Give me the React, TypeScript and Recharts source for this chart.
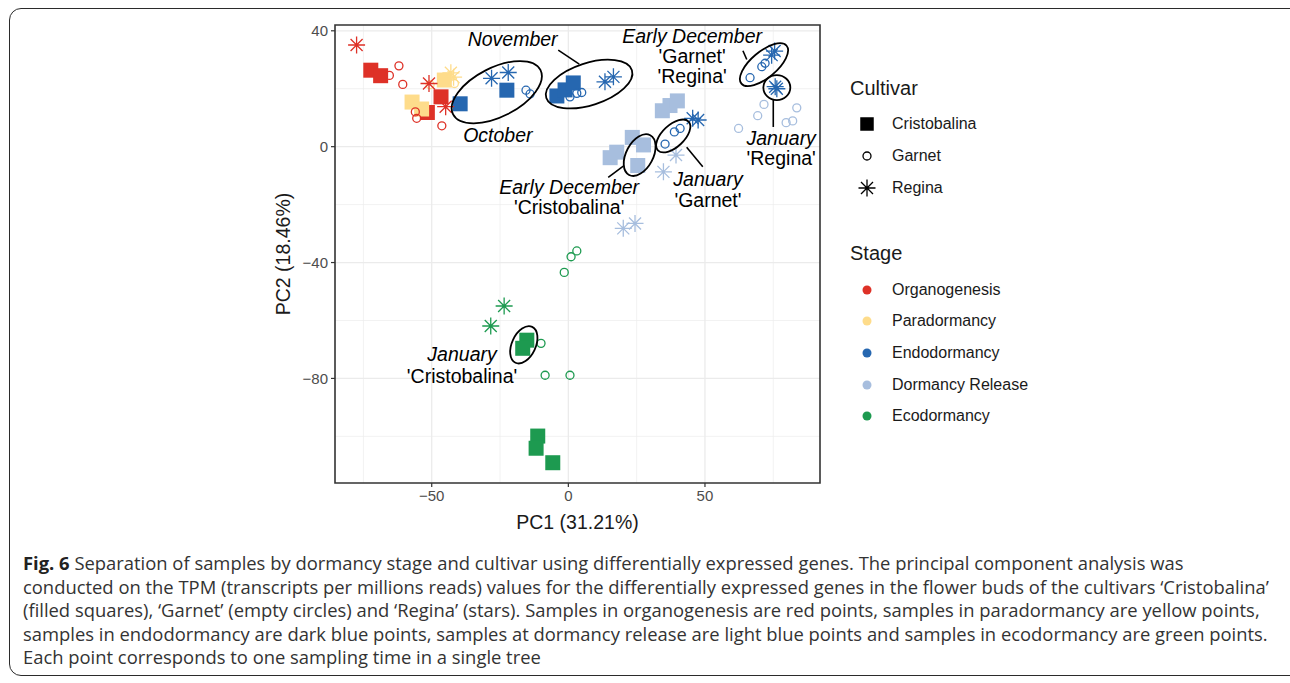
import React from 'react';
import {
  ScatterChart,
  Scatter,
  XAxis,
  YAxis,
  CartesianGrid,
  ReferenceArea,
  ReferenceDot,
  ReferenceLine,
  Label,
} from 'recharts';

// ---------------------------------------------------------------------------
// data: PC1 / PC2 scores by cultivar and stage
// ---------------------------------------------------------------------------

type Pt = { x: number; y: number };

const cristobalinaOrganogenesis: Pt[] = [
  { x: -72.3, y: 26.4 }, { x: -68.7, y: 24.5 }, { x: -46.6, y: 17.2 }, { x: -51.6, y: 11.8 },
];
const cristobalinaParadormancy: Pt[] = [
  { x: -57.2, y: 15.4 }, { x: -53.7, y: 13.0 }, { x: -45.4, y: 23.0 },
];
const cristobalinaEndodormancy: Pt[] = [
  { x: -39.6, y: 14.8 }, { x: -22.5, y: 19.5 }, { x: -4.2, y: 17.5 }, { x: -1.2, y: 19.6 }, { x: 1.8, y: 22.0 },
];
const cristobalinaRelease: Pt[] = [
  { x: 34.4, y: 12.4 }, { x: 37.2, y: 14.2 }, { x: 39.9, y: 15.8 },
  { x: 15.3, y: -3.8 }, { x: 17.7, y: -1.9 }, { x: 23.4, y: 3.2 }, { x: 27.5, y: 0.6 }, { x: 25.4, y: -6.5 },
];
const cristobalinaEcodormancy: Pt[] = [
  { x: -15.2, y: -66.8 }, { x: -16.7, y: -69.6 }, { x: -11.2, y: -99.9 }, { x: -11.8, y: -104.1 }, { x: -5.7, y: -109.1 },
];

const garnetOrganogenesis: Pt[] = [
  { x: -62.0, y: 27.9 }, { x: -65.5, y: 24.6 }, { x: -60.6, y: 21.5 }, { x: -56.0, y: 12.0 }, { x: -55.5, y: 9.8 }, { x: -46.3, y: 7.2 },
];
const garnetParadormancy: Pt[] = [
  { x: -50.6, y: 21.4 }, { x: -41.7, y: 21.8 },
];
const garnetEndodormancy: Pt[] = [
  { x: -15.5, y: 19.5 }, { x: -14.0, y: 18.2 }, { x: 0.6, y: 17.2 }, { x: 3.1, y: 18.4 }, { x: 4.9, y: 18.7 },
  { x: 35.4, y: 0.9 }, { x: 38.8, y: 5.1 }, { x: 40.9, y: 6.3 },
  { x: 66.5, y: 23.8 }, { x: 70.8, y: 27.6 }, { x: 72.0, y: 28.8 },
];
const garnetRelease: Pt[] = [
  { x: 71.6, y: 14.6 }, { x: 69.3, y: 10.7 }, { x: 62.3, y: 6.3 }, { x: 83.6, y: 13.4 }, { x: 82.1, y: 8.9 }, { x: 79.7, y: 8.3 },
];
const garnetEcodormancy: Pt[] = [
  { x: 3.1, y: -36.0 }, { x: 1.0, y: -38.0 }, { x: -1.5, y: -43.4 }, { x: -10.0, y: -67.9 }, { x: -8.5, y: -78.9 }, { x: 0.6, y: -78.9 },
];

const reginaOrganogenesis: Pt[] = [
  { x: -77.5, y: 35.1 }, { x: -51.0, y: 21.8 }, { x: -44.9, y: 13.8 },
];
const reginaParadormancy: Pt[] = [
  { x: -43.0, y: 25.5 }, { x: -42.0, y: 24.0 },
];
const reginaEndodormancy: Pt[] = [
  { x: -28.1, y: 23.6 }, { x: -22.0, y: 25.6 }, { x: 13.4, y: 22.4 }, { x: 16.5, y: 24.1 },
  { x: 45.5, y: 9.8 }, { x: 47.5, y: 9.2 }, { x: 74.4, y: 31.6 }, { x: 75.5, y: 33.0 }, { x: 75.7, y: 20.7 }, { x: 76.3, y: 20.0 },
];
const reginaRelease: Pt[] = [
  { x: 39.4, y: -2.9 }, { x: 34.8, y: -8.7 }, { x: 20.1, y: -28.2 }, { x: 24.4, y: -26.5 },
];
const reginaEcodormancy: Pt[] = [
  { x: -23.5, y: -55.0 }, { x: -28.4, y: -61.9 },
];

const cultivars = ['Cristobalina', 'Garnet', 'Regina'];
const stages = ['Organogenesis', 'Paradormancy', 'Endodormancy', 'Dormancy Release', 'Ecodormancy'];

const xTicks = [-50, 0, 50];
const yTicks = [-80, -40, 0, 40];
const xMinor = [-75, -25, 25, 75];
const yMinor = [-100, -60, -20, 20];
const xDomain: [number, number] = [-85.4, 92.1];
const yDomain: [number, number] = [-116.1, 42.0];

// annotations (centre in data units)
const ellipses = [
  { x: -26.2, y: 18.8, rx: 49, ry: 24.5, rot: -27 }, // October
  { x: 7.6, y: 21.6, rx: 45, ry: 21, rot: -18 }, // November
  { x: 71.6, y: 28.3, rx: 29.5, ry: 13, rot: -40 }, // Early December Garnet/Regina
  { x: 76.3, y: 20.4, rx: 13.5, ry: 12.5, rot: 0 }, // January Regina
  { x: 38.4, y: 3.7, rx: 21, ry: 11, rot: -43 }, // January Garnet
  { x: 26.1, y: -2.9, rx: 22.5, ry: 13.5, rot: -62 }, // Early December Cristobalina
  { x: -16.3, y: -68.4, rx: 19.8, ry: 11.9, rot: -65 }, // January Cristobalina
];

const connectors = [
  [{ x: -3.7, y: 33.3 }, { x: 4.0, y: 28.5 }],
  [{ x: 63.9, y: 33.1 }, { x: 65.3, y: 30.1 }],
  [{ x: 75.0, y: 16.1 }, { x: 75.0, y: 6.8 }],
  [{ x: 43.3, y: -0.2 }, { x: 49.2, y: -6.9 }],
  [{ x: 20.1, y: -6.7 }, { x: 14.6, y: -10.6 }],
];

const labels = [
  { x: -20.4, y: 37.1, lines: ['November'], lh: 20 },
  { x: -25.8, y: 4.0, lines: ['October'], lh: 20 },
  { x: 45.3, y: 31.4, lines: ['Early December', "'Garnet'", "'Regina'"], lh: 20 },
  { x: 77.9, y: -0.5, lines: ['January', "'Regina'"], lh: 20 },
  { x: 51.1, y: -14.8, lines: ['January', "'Garnet'"], lh: 20.5 },
  { x: 0.3, y: -17.4, lines: ['Early December', "'Cristobalina'"], lh: 20 },
  { x: -38.9, y: -75.4, lines: ['January', "'Cristobalina'"], lh: 22 },
];

// ---------------------------------------------------------------------------
// styles
// ---------------------------------------------------------------------------

const FONT = '"Liberation Sans", Arial, sans-serif';
const stageColor: Record<string, string> = {
  Organogenesis: '#DE3127',
  Paradormancy: '#FEDC8B',
  Endodormancy: '#2667B0',
  'Dormancy Release': '#A7BEDE',
  Ecodormancy: '#1D9A50',
};

const series = [
  { cultivar: 'Cristobalina', stage: 'Organogenesis', data: cristobalinaOrganogenesis },
  { cultivar: 'Cristobalina', stage: 'Paradormancy', data: cristobalinaParadormancy },
  { cultivar: 'Cristobalina', stage: 'Endodormancy', data: cristobalinaEndodormancy },
  { cultivar: 'Cristobalina', stage: 'Dormancy Release', data: cristobalinaRelease },
  { cultivar: 'Cristobalina', stage: 'Ecodormancy', data: cristobalinaEcodormancy },
  { cultivar: 'Garnet', stage: 'Organogenesis', data: garnetOrganogenesis },
  { cultivar: 'Garnet', stage: 'Paradormancy', data: garnetParadormancy },
  { cultivar: 'Garnet', stage: 'Endodormancy', data: garnetEndodormancy },
  { cultivar: 'Garnet', stage: 'Dormancy Release', data: garnetRelease },
  { cultivar: 'Garnet', stage: 'Ecodormancy', data: garnetEcodormancy },
  { cultivar: 'Regina', stage: 'Organogenesis', data: reginaOrganogenesis },
  { cultivar: 'Regina', stage: 'Paradormancy', data: reginaParadormancy },
  { cultivar: 'Regina', stage: 'Endodormancy', data: reginaEndodormancy },
  { cultivar: 'Regina', stage: 'Dormancy Release', data: reginaRelease },
  { cultivar: 'Regina', stage: 'Ecodormancy', data: reginaEcodormancy },
];

function starPath(cx: number, cy: number, r: number) {
  const d = r * 0.7071;
  return `M${cx - r},${cy}H${cx + r}M${cx},${cy - r}V${cy + r}M${cx - d},${cy - d}L${cx + d},${cy + d}M${cx - d},${cy + d}L${cx + d},${cy - d}`;
}

function marker(cultivar: string, color: string, cx: number, cy: number, big = true) {
  if (cultivar === 'Cristobalina') {
    const s = big ? 15 : 13.5;
    return <rect x={cx - s / 2} y={cy - s / 2} width={s} height={s} fill={color} />;
  }
  if (cultivar === 'Garnet') {
    return <circle cx={cx} cy={cy} r={4} fill="none" stroke={color} strokeWidth={1.3} />;
  }
  return <path d={starPath(cx, cy, 8.5)} stroke={color} strokeWidth={1.3} fill="none" />;
}

// grid line positions from the plot offset and the axis domain (linear scale)
const xGrid = (values: number[]) => (props: any) => {
  const o = props.offset;
  return values.map((v) => o.left + ((v - xDomain[0]) / (xDomain[1] - xDomain[0])) * o.width);
};
const yGrid = (values: number[]) => (props: any) => {
  const o = props.offset;
  return values.map((v) => o.top + ((yDomain[1] - v) / (yDomain[1] - yDomain[0])) * o.height);
};

const minus = (v: number) => String(v).replace('-', '\u2212');

// ---------------------------------------------------------------------------
// component
// ---------------------------------------------------------------------------

function LegendBlock() {
  const row = (key: string, icon: React.ReactNode, top: number) => (
    <div key={key} style={{ position: 'absolute', left: 0, top, height: 24, display: 'flex', alignItems: 'center' }}>
      <svg width={36} height={24} style={{ display: 'block' }}>{icon}</svg>
      <span style={{ marginLeft: 7, fontSize: 16, color: '#1a1a1a', whiteSpace: 'nowrap' }}>{key}</span>
    </div>
  );
  return (
    <div style={{ position: 'absolute', left: 849, top: 77, width: 300, height: 360, fontFamily: FONT }}>
      <div style={{ position: 'absolute', left: 1, top: 0, fontSize: 20, color: '#1a1a1a' }}>Cultivar</div>
      {cultivars.map((c, i) => row(c, marker(c, '#000', 18, 12, false), 34.5 + i * 32))}
      <div style={{ position: 'absolute', left: 1, top: 165, fontSize: 20, color: '#1a1a1a' }}>Stage</div>
      {stages.map((s, i) =>
        row(s, <circle cx={18} cy={12} r={4.5} fill={stageColor[s]} />, 200.5 + i * 31.7),
      )}
    </div>
  );
}

const captionLines = [
  ' Separation of samples by dormancy stage and cultivar using differentially expressed genes. The principal component analysis was',
  'conducted on the TPM (transcripts per millions reads) values for the differentially expressed genes in the flower buds of the cultivars \u2018Cristobalina\u2019',
  '(filled squares), \u2018Garnet\u2019 (empty circles) and \u2018Regina\u2019 (stars). Samples in organogenesis are red points, samples in paradormancy are yellow points,',
  'samples in endodormancy are dark blue points, samples at dormancy release are light blue points and samples in ecodormancy are green points.',
  'Each point corresponds to one sampling time in a single tree',
];

export default function App() {
  return (
    <div style={{ position: 'absolute', left: 0, top: 0, width: 1290, height: 683, overflow: 'hidden', background: '#fff' }}>
      <div
        style={{
          position: 'absolute', left: 9, top: 8, width: 1300, height: 668,
          border: '1.5px solid #2b2b2b', borderRadius: 12, boxSizing: 'border-box',
        }}
      />
      <div style={{ position: 'absolute', left: 0, top: 0 }}>
        <ScatterChart width={1290} height={683} margin={{ top: 25, right: 470, bottom: 140, left: 275 }}>
          <CartesianGrid
            stroke="#EDEDED"
            strokeWidth={0.7}
            verticalCoordinatesGenerator={xGrid(xMinor)}
            horizontalCoordinatesGenerator={yGrid(yMinor)}
          />
          <CartesianGrid
            stroke="#EBEBEB"
            strokeWidth={1.3}
            verticalCoordinatesGenerator={xGrid(xTicks)}
            horizontalCoordinatesGenerator={yGrid(yTicks)}
          />
          <XAxis
            type="number"
            dataKey="x"
            domain={xDomain}
            allowDataOverflow
            ticks={xTicks}
            tickFormatter={minus}
            tickSize={4}
            tickMargin={3}
            axisLine={false}
            tickLine={{ stroke: '#333', strokeWidth: 1.2 }}
            tick={{ fontSize: 15, fill: '#4D4D4D', fontFamily: FONT }}
            height={60}
          >
            <Label
              content={({ viewBox }: any) => (
                <text
                  x={viewBox.x + viewBox.width / 2}
                  y={viewBox.y + 39}
                  textAnchor="middle"
                  dominantBaseline="central"
                  fontSize={19.5}
                  fontFamily={FONT}
                  fill="#1a1a1a"
                >
                  PC1 (31.21%)
                </text>
              )}
            />
          </XAxis>
          <YAxis
            type="number"
            dataKey="y"
            domain={yDomain}
            allowDataOverflow
            ticks={yTicks}
            tickFormatter={minus}
            tickSize={4}
            tickMargin={3}
            axisLine={false}
            tickLine={{ stroke: '#333', strokeWidth: 1.2 }}
            tick={{ fontSize: 15, fill: '#4D4D4D', fontFamily: FONT }}
            width={60}
          >
            <Label
              content={({ viewBox }: any) => {
                const cx = viewBox.x + 8;
                const cy = viewBox.y + viewBox.height / 2;
                return (
                  <text
                    x={cx}
                    y={cy}
                    transform={`rotate(-90 ${cx} ${cy})`}
                    textAnchor="middle"
                    dominantBaseline="central"
                    fontSize={19.5}
                    fontFamily={FONT}
                    fill="#1a1a1a"
                  >
                    PC2 (18.46%)
                  </text>
                );
              }}
            />
          </YAxis>

          {series.map((s) => (
            <Scatter
              key={`${s.cultivar}-${s.stage}`}
              name={`${s.cultivar} ${s.stage}`}
              data={s.data}
              isAnimationActive={false}
              shape={(p: any) => marker(s.cultivar, stageColor[s.stage], p.cx, p.cy)}
            />
          ))}

          {ellipses.map((e, i) => (
            <ReferenceDot
              key={`el${i}`}
              x={e.x}
              y={e.y}
              r={1}
              ifOverflow="visible"
              shape={(p: any) => (
                <ellipse
                  cx={p.cx}
                  cy={p.cy}
                  rx={e.rx}
                  ry={e.ry}
                  transform={`rotate(${e.rot} ${p.cx} ${p.cy})`}
                  fill="none"
                  stroke="#000"
                  strokeWidth={1.8}
                />
              )}
            />
          ))}
          {connectors.map((seg, i) => (
            <ReferenceLine key={`cn${i}`} segment={seg} stroke="#000" strokeWidth={1.6} ifOverflow="visible" />
          ))}
          {labels.map((l, i) => (
            <ReferenceDot
              key={`lb${i}`}
              x={l.x}
              y={l.y}
              r={1}
              ifOverflow="visible"
              shape={(p: any) => (
                <text textAnchor="middle" fontFamily={FONT} fontSize={19.5} fill="#000">
                  {l.lines.map((t, j) => (
                    <tspan
                      key={j}
                      x={p.cx}
                      y={p.cy + (j - (l.lines.length - 1) / 2) * l.lh}
                      dominantBaseline="central"
                      fontStyle={j === 0 ? 'italic' : 'normal'}
                    >
                      {t}
                    </tspan>
                  ))}
                </text>
              )}
            />
          ))}

          <ReferenceArea
            x1={xDomain[0]}
            x2={xDomain[1]}
            y1={yDomain[0]}
            y2={yDomain[1]}
            fill="none"
            fillOpacity={0}
            stroke="#333"
            strokeWidth={1.6}
            ifOverflow="visible"
          />
        </ScatterChart>
      </div>

      <LegendBlock />

      <div
        style={{
          position: 'absolute', left: 23, top: 551, fontFamily: '"Open Sans", sans-serif',
          fontSize: 18.4, lineHeight: '23.5px', color: '#333', whiteSpace: 'nowrap',
        }}
      >
        {captionLines.map((t, i) => (
          <div key={i}>
            {i === 0 ? <b style={{ color: '#222' }}>Fig. 6</b> : null}
            {t}
          </div>
        ))}
      </div>
    </div>
  );
}
